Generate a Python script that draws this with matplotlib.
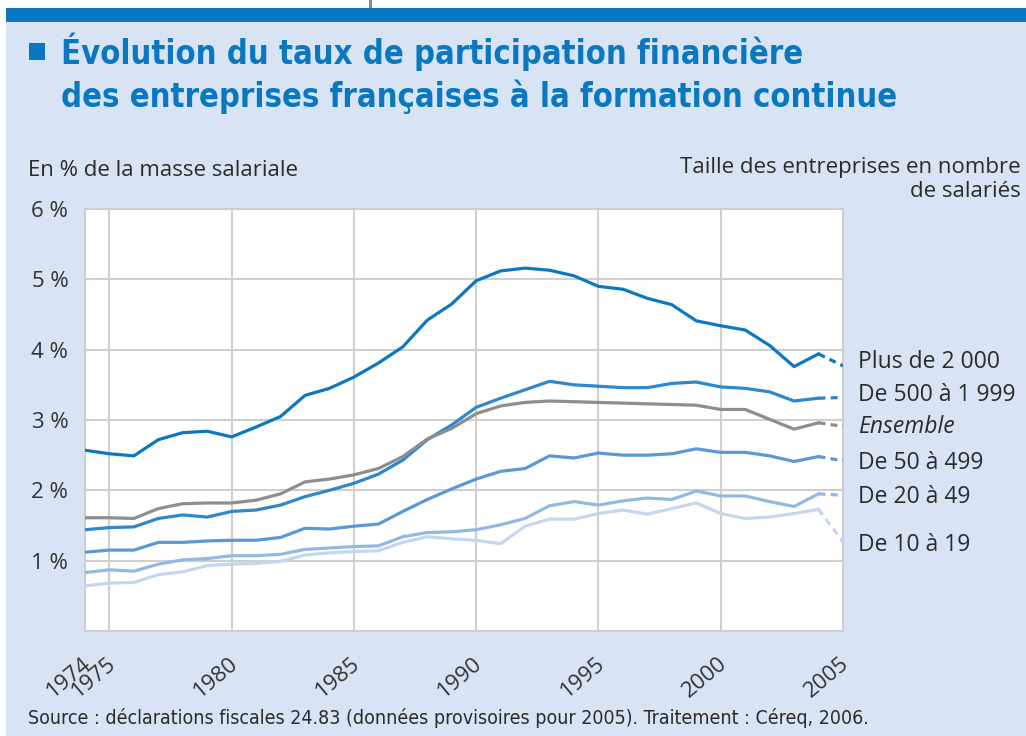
import matplotlib
matplotlib.use("Agg")
import matplotlib.pyplot as plt
import matplotlib.transforms as mtransforms
from matplotlib.patches import Rectangle

# Data (% of wage bill), 1974-2005
years = list(range(1974, 2006))

plus_2000 = [2.57, 2.52, 2.49, 2.72, 2.82, 2.84, 2.76, 2.90, 3.05, 3.35, 3.45, 3.61,
             3.81, 4.04, 4.42, 4.65, 4.98, 5.12, 5.16, 5.13, 5.05, 4.90, 4.86, 4.73,
             4.64, 4.41, 4.34, 4.28, 4.06, 3.76, 3.94, 3.77]
de_500 = [1.44, 1.47, 1.48, 1.60, 1.65, 1.62, 1.70, 1.72, 1.79, 1.91, 2.00, 2.10,
          2.23, 2.43, 2.72, 2.93, 3.18, 3.31, 3.43, 3.55, 3.50, 3.48, 3.46, 3.46,
          3.52, 3.54, 3.47, 3.45, 3.40, 3.27, 3.31, 3.32]
ensemble = [1.61, 1.61, 1.60, 1.74, 1.81, 1.82, 1.82, 1.86, 1.95, 2.12, 2.16, 2.22,
            2.31, 2.48, 2.73, 2.88, 3.09, 3.20, 3.25, 3.27, 3.26, 3.25, 3.24, 3.23,
            3.22, 3.21, 3.15, 3.15, 3.01, 2.87, 2.96, 2.91]
de_50 = [1.12, 1.15, 1.15, 1.26, 1.26, 1.28, 1.29, 1.29, 1.33, 1.46, 1.45, 1.49,
         1.52, 1.70, 1.87, 2.02, 2.16, 2.27, 2.31, 2.49, 2.46, 2.53, 2.50, 2.50,
         2.52, 2.59, 2.54, 2.54, 2.49, 2.41, 2.48, 2.42]
de_20 = [0.83, 0.87, 0.85, 0.95, 1.01, 1.03, 1.07, 1.07, 1.09, 1.16, 1.18, 1.20,
         1.21, 1.34, 1.40, 1.41, 1.44, 1.51, 1.60, 1.78, 1.84, 1.79, 1.85, 1.89,
         1.87, 1.99, 1.92, 1.92, 1.84, 1.77, 1.95, 1.93]
de_10 = [0.64, 0.68, 0.69, 0.80, 0.84, 0.93, 0.95, 0.96, 0.99, 1.08, 1.11, 1.13,
         1.14, 1.26, 1.34, 1.31, 1.29, 1.24, 1.49, 1.59, 1.59, 1.67, 1.72, 1.66,
         1.74, 1.82, 1.67, 1.60, 1.62, 1.67, 1.73, 1.27]

series_names = ["Plus de 2 000", "De 500 à 1 999", "Ensemble",
                "De 50 à 499", "De 20 à 49", "De 10 à 19"]
series_values = [plus_2000, de_500, ensemble, de_50, de_20, de_10]
series_colors = ["#0b78c0", "#2f87cc", "#8e8e90", "#5a98d6", "#93b8e4", "#c5d7ef"]
label_y = [3.82, 3.36, 2.90, 2.39, 1.91, 1.22]

xtick_years = [1974, 1975, 1980, 1985, 1990, 1995, 2000, 2005]
ytick_vals = [1, 2, 3, 4, 5, 6]

bg = "#d8e4f4"
blue = "#0a78c0"
txt = "#2b2b2b"
light = ["Open Sans", "DejaVu Sans"]

fig = plt.figure(figsize=(10.26, 7.36), dpi=100)
fig.patch.set_facecolor("white")

# page background, top band and small rule
fig.patches.append(Rectangle((0.006, 0), 0.994, 0.97, transform=fig.transFigure,
                             facecolor=bg, edgecolor="none", zorder=-10))
fig.patches.append(Rectangle((0.006, 0.97), 0.994, 0.019, transform=fig.transFigure,
                             facecolor=blue, edgecolor="none", zorder=-9))
fig.patches.append(Rectangle((0.3596, 0.989), 0.003, 0.011, transform=fig.transFigure,
                             facecolor="#8a8a8a", edgecolor="none", zorder=-9))
fig.patches.append(Rectangle((0.028, 0.918), 0.016, 0.023, transform=fig.transFigure,
                             facecolor=blue, edgecolor="none"))

fig.text(0.059, 0.93, "Évolution du taux de participation financière",
         fontsize=23.5, fontweight="bold", color=blue, family="DejaVu Sans",
         fontstretch="condensed", va="center")
fig.text(0.059, 0.869, "des entreprises françaises à la formation continue",
         fontsize=23.5, fontweight="bold", color=blue, family="DejaVu Sans",
         fontstretch="condensed", va="center")

fig.text(0.027, 0.768, "En % de la masse salariale", fontsize=16,
         color=txt, family=light, va="center")
fig.text(0.995, 0.787, "Taille des entreprises en nombre\nde salariés", fontsize=16,
         color=txt, family=light, va="top", ha="right", linespacing=1.2)

fig.text(0.027, 0.025, "Source : déclarations fiscales 24.83 (données provisoires pour 2005). "
         "Traitement : Céreq, 2006.", fontsize=14, color=txt, family="DejaVu Sans",
         fontstretch="condensed", va="center")

ax = fig.add_axes([0.0828, 0.1427, 0.7388, 0.5733])
ax.set_facecolor("white")
ax.set_xlim(1974, 2005)
ax.set_ylim(0, 6)

for name, vals, col in zip(series_names, series_values, series_colors):
    ax.plot(years[:-1], vals[:-1], color=col, lw=2.3, solid_joinstyle="round", zorder=3)
    ax.plot(years[-2:], vals[-2:], color=col, lw=2.3, ls=(0, (2.2, 1.6)), zorder=3)

for name, ly in zip(series_names, label_y):
    ax.text(1.02, ly, name, transform=ax.get_yaxis_transform(), fontsize=16.5,
            color=txt, family=light, va="center", ha="left",
            style="italic" if name == "Ensemble" else "normal")

ax.set_yticks(ytick_vals)
ax.set_yticklabels([f"{v} %" for v in ytick_vals], fontsize=16, color="#333333", family=light)
ax.set_xticks(xtick_years)
ax.set_xticklabels([])

# rotated year labels, shifted like in the original layout
lab_trans = ax.get_xaxis_transform() + mtransforms.ScaledTranslation(-0.16, -0.46, fig.dpi_scale_trans)
for yr in xtick_years:
    ax.text(yr, 0, str(yr), transform=lab_trans, fontsize=16, color="#333333",
            family=light, rotation=40, ha="center", va="center")

ax.tick_params(length=0, pad=12, axis="y")
ax.tick_params(length=0, axis="x")
ax.grid(True, color="#cfcfcf", lw=1.5, zorder=1)
for sp in ax.spines.values():
    sp.set_color("#cfcfcf")
    sp.set_linewidth(1.5)

fig.savefig("out.png", dpi=100)
